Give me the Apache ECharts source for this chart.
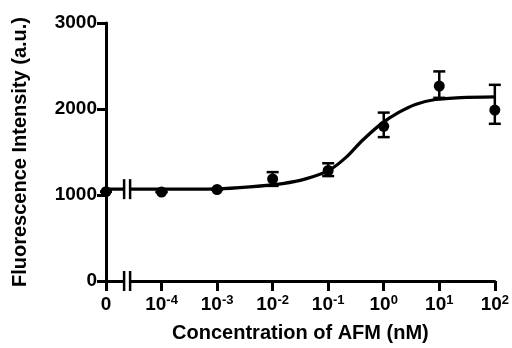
<!DOCTYPE html>
<html>
<head>
<meta charset="utf-8">
<script src="https://cdn.jsdelivr.net/npm/echarts@6/dist/echarts.min.js"></script>
<style>
  html, body {margin: 0; padding: 0; background: #fff;}
  #main {width: 512px; height: 348px;}
</style>
</head>
<body>
<div id="main"></div>
<script>
// x positions are log10(concentration); the "0" concentration sits one decade left of 1e-4
const xTicks = [-5, -4, -3, -2, -1, 0, 1, 2];
const pointX = [-5, -4, -3, -2, -1, 0, 1, 2];
const meanY = [1038, 1035, 1064, 1186, 1285, 1799, 2266, 1988];
const upperY = [1038, 1035, 1064, 1266, 1369, 1958, 2437, 2281];
const lowerY = [1038, 1035, 1064, 1106, 1220, 1673, 2130, 1828];
const curveX = [-5, -4, -3, -2.41, -1.82, -1.39, -0.98, -0.68, -0.39, -0.04, 0.27, 0.57, 0.93, 1.39, 2];
const curveY = [1068, 1068, 1072, 1095, 1133, 1190, 1289, 1437, 1631, 1830, 1960, 2053, 2110, 2133, 2141];
const yTicks = [0, 1000, 2000, 3000];
const BREAK_X = -4.62;

const font = '"Liberation Sans", Arial, Helvetica, sans-serif';
const chart = echarts.init(document.getElementById('main'));

chart.setOption({
    animation: false,
    grid: {left: 106, right: 15, top: 23, bottom: 62},
    xAxis: {
        type: 'value',
        min: xTicks[0],
        max: xTicks[xTicks.length - 1],
        interval: 1,
        name: 'Concentration of AFM (nM)',
        nameLocation: 'middle',
        nameGap: 42,
        nameTextStyle: {color: '#000', fontSize: 20, fontWeight: 'bold', fontFamily: font},
        axisLine: {onZero: false, lineStyle: {color: '#000', width: 3}},
        axisTick: {length: 10, lineStyle: {color: '#000', width: 3}},
        splitLine: {show: false},
        axisLabel: {
            margin: 12,
            formatter: v => v === -5 ? '{n|0}' : '{n|10}{s|' + v + '}',
            rich: {
                n: {color: '#000', fontSize: 19, fontWeight: 'bold', fontFamily: font, lineHeight: 24},
                s: {color: '#000', fontSize: 13, fontWeight: 'bold', fontFamily: font, padding: [0, 0, 9, 0]}
            }
        }
    },
    yAxis: {
        type: 'value',
        min: yTicks[0],
        max: yTicks[yTicks.length - 1],
        interval: 1000,
        name: 'Fluorescence Intensity (a.u.)',
        nameLocation: 'middle',
        nameGap: 76,
        nameTextStyle: {color: '#000', fontSize: 20, fontWeight: 'bold', fontFamily: font},
        axisLine: {show: true, onZero: false, lineStyle: {color: '#000', width: 3}},
        axisTick: {show: true, length: 9, lineStyle: {color: '#000', width: 3}},
        splitLine: {show: false},
        axisLabel: {margin: 9, color: '#000', fontSize: 19, fontWeight: 'bold', fontFamily: font, formatter: v => String(v)}
    },
    series: [
        {
            type: 'line',
            data: curveX.map((x, i) => [x, curveY[i]]),
            smooth: 0.3,
            showSymbol: false,
            lineStyle: {color: '#000', width: 3.2},
            z: 2
        },
        {
            type: 'custom',
            data: pointX.map((x, i) => [x, meanY[i], lowerY[i], upperY[i]]),
            renderItem(params, api) {
                const top = api.coord([api.value(0), api.value(3)]);
                const bot = api.coord([api.value(0), api.value(2)]);
                const style = {stroke: '#000', lineWidth: 2.5};
                return {
                    type: 'group',
                    children: [
                        {type: 'line', shape: {x1: top[0], y1: top[1], x2: bot[0], y2: bot[1]}, style},
                        {type: 'line', shape: {x1: top[0] - 6, y1: top[1], x2: top[0] + 6, y2: top[1]}, style},
                        {type: 'line', shape: {x1: bot[0] - 6, y1: bot[1], x2: bot[0] + 6, y2: bot[1]}, style}
                    ]
                };
            },
            z: 3
        },
        {
            type: 'scatter',
            data: pointX.map((x, i) => [x, meanY[i]]),
            symbol: 'circle',
            symbolSize: 11,
            itemStyle: {color: '#000', opacity: 1},
            z: 4
        }
    ]
});

// axis-break marks on the x axis and on the fitted curve
const marks = [];
[0, curveY[0]].forEach(yv => {
    const p = chart.convertToPixel({gridIndex: 0}, [BREAK_X, yv]);
    marks.push({type: 'rect', shape: {x: p[0] - 3, y: p[1] - 4, width: 6, height: 8}, style: {fill: '#fff'}, z: 100});
    [-3, 3].forEach(dx => {
        marks.push({
            type: 'line',
            shape: {x1: p[0] + dx, y1: p[1] - 10, x2: p[0] + dx, y2: p[1] + 10},
            style: {stroke: '#000', lineWidth: 2.5},
            z: 101
        });
    });
});
chart.setOption({graphic: marks});
</script>
</body>
</html>
